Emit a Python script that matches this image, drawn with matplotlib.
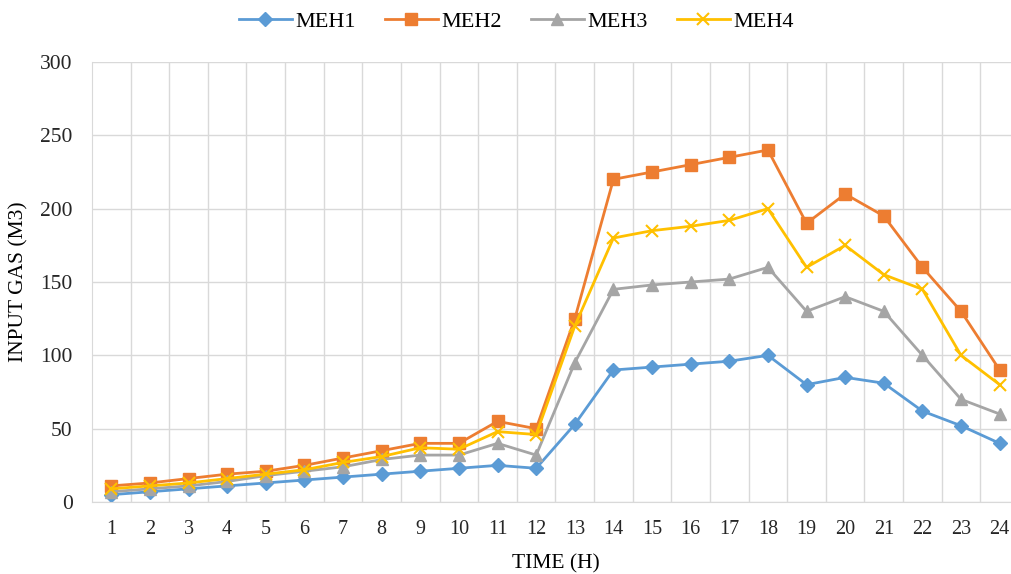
import matplotlib
matplotlib.use("Agg")
import matplotlib.pyplot as plt

hours = list(range(1, 25))
meh1 = [5, 7, 9, 11, 13, 15, 17, 19, 21, 23, 25, 23, 53, 90, 92, 94, 96, 100, 80, 85, 81, 62, 52, 40]
meh2 = [11, 13, 16, 19, 21, 25, 30, 35, 40, 40, 55, 50, 125, 220, 225, 230, 235, 240, 190, 210, 195, 160, 130, 90]
meh3 = [7, 9, 11, 14, 18, 21, 24, 29, 32, 32, 40, 32, 95, 145, 148, 150, 152, 160, 130, 140, 130, 100, 70, 60]
meh4 = [9, 11, 13, 16, 19, 22, 27, 31, 37, 36, 48, 46, 120, 180, 185, 188, 192, 200, 160, 175, 155, 145, 100, 80]

plt.rcParams['font.family'] = ['Liberation Serif', 'DejaVu Serif']

fig = plt.figure(figsize=(10.12, 5.74), dpi=100)
ax = fig.add_axes([0.0909, 0.1254, 0.916, 0.7666])

ax.plot(hours, meh1, color='#5B9BD5', marker='D', markersize=7.5, linewidth=2, label='MEH1')
ax.plot(hours, meh2, color='#ED7D31', marker='s', markersize=8.5, linewidth=2, label='MEH2')
ax.plot(hours, meh3, color='#A5A5A5', marker='^', markersize=9, linewidth=2, label='MEH3')
ax.plot(hours, meh4, color='#FFC000', marker='x', markersize=9, markeredgewidth=1.5, linewidth=2, label='MEH4')

ax.set_xlim(0.5, 24.5)
ax.set_ylim(0, 300)
ax.set_yticks(range(0, 301, 50))
ax.set_xticks(hours)
ax.set_xticks([h + 0.5 for h in hours[:-1]], minor=True)
ax.grid(True, which='minor', axis='x', color='#d9d9d9', linewidth=1)
ax.grid(True, which='major', axis='y', color='#d9d9d9', linewidth=1)
ax.set_axisbelow(True)
ax.tick_params(which='both', length=0, labelsize=14.5, colors='#262626')
ax.tick_params(axis='x', pad=13)
ax.tick_params(axis='y', labelsize=15.5, pad=14)
for s in ['top', 'right']:
    ax.spines[s].set_visible(False)
for s in ['left', 'bottom']:
    ax.spines[s].set_color('#d9d9d9')

ax.set_xlabel('TIME (H)', fontsize=15.5, labelpad=11)
ax.set_ylabel('INPUT GAS (M3)', fontsize=15.5, labelpad=8)

fig.legend(loc='upper center', bbox_to_anchor=(0.51, 1.015), ncol=4, frameon=False,
           fontsize=16, handlelength=2.4, columnspacing=1.3, handletextpad=0.15)

fig.savefig('out.png', dpi=100)
